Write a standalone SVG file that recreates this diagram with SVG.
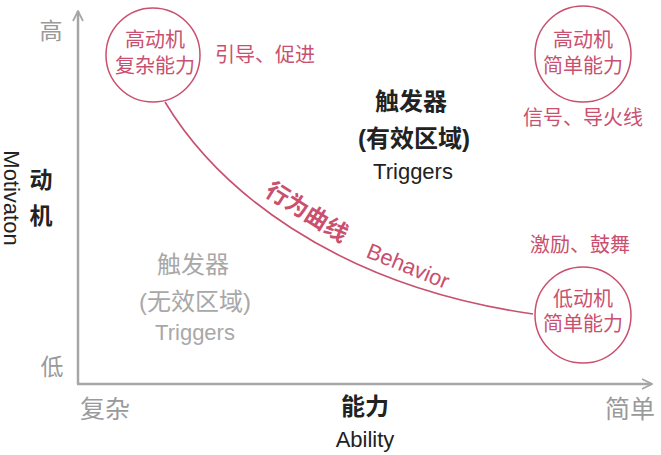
<svg xmlns="http://www.w3.org/2000/svg" width="661" height="455" viewBox="0 0 661 455">
<style>
.t{font-family:"Liberation Sans","Noto Sans CJK SC",sans-serif;text-anchor:middle;dominant-baseline:central}
.pk{fill:#c9506e;font-size:20px}
.gr{fill:#9a9a9a;font-size:23px}
.lg{fill:#a8a8a8}
.bk{fill:#222}
.b{font-weight:bold}
.node{fill:#fff;stroke:#c9506e;stroke-width:1.5}
.axis{stroke:#a6a6a6;stroke-width:2.5;fill:none}
</style>
<defs>
<marker id="arr" viewBox="0 0 10 10" refX="9" refY="5" markerWidth="5" markerHeight="5" orient="auto" markerUnits="strokeWidth">
<polyline points="1,1 9,5 1,9" fill="none" stroke="#a6a6a6" stroke-width="1.4"/>
</marker>
</defs>
<rect width="661" height="455" fill="#fff"/>
<g id="axes">
<line class="axis" x1="78" y1="384" x2="78" y2="11" marker-end="url(#arr)"/>
<line class="axis" x1="77" y1="384" x2="652" y2="384" marker-end="url(#arr)"/>
<text class="t gr" x="51" y="31">高</text>
<text class="t gr" x="52" y="367">低</text>
<text class="t gr" x="105" y="409" style="font-size:25px">复杂</text>
<text class="t gr" x="630" y="409" style="font-size:25px">简单</text>
<text class="t bk b" x="365" y="406" style="font-size:24px">能力</text>
<text class="t bk" x="365" y="439" style="font-size:22px">Ability</text>
<text class="t bk b" x="41" y="180" style="font-size:23px">动</text>
<text class="t bk b" x="41" y="216" style="font-size:23px">机</text>
<text class="t bk" x="0" y="0" style="font-size:22px" transform="translate(11,198) rotate(90)">Motivaton</text>
</g>
<g id="connectors">
<path d="M165,102 C215,185 330,285 533,314" fill="none" stroke="#c9506e" stroke-width="1.6"/>
<text class="t pk b" x="0" y="0" style="font-size:23px" transform="translate(307,212) rotate(32)">行为曲线</text>
<text class="t pk" x="0" y="0" style="font-size:22px" transform="translate(408,266) rotate(22)">Behavior</text>
</g>
<g id="node-high-complex">
<circle class="node" cx="153" cy="55" r="47"/>
<text class="t pk" x="155" y="40">高动机</text>
<text class="t pk" x="155" y="66">复杂能力</text>
<text class="t pk" x="265" y="55">引导、促进</text>
</g>
<g id="node-high-simple">
<circle class="node" cx="583" cy="54" r="48"/>
<text class="t pk" x="583" y="40">高动机</text>
<text class="t pk" x="583" y="66">简单能力</text>
<text class="t pk" x="583" y="118">信号、导火线</text>
</g>
<g id="node-low-simple">
<circle class="node" cx="583" cy="315" r="48"/>
<text class="t pk" x="583" y="299">低动机</text>
<text class="t pk" x="583" y="324">简单能力</text>
<text class="t pk" x="580" y="245">激励、鼓舞</text>
</g>
<g id="zone-valid">
<text class="t bk b" x="411" y="101" style="font-size:24px">触发器</text>
<text class="t bk b" x="414" y="138" style="font-size:24px">(有效区域)</text>
<text class="t bk" x="413" y="171" style="font-size:22px">Triggers</text>
</g>
<g id="zone-invalid">
<text class="t lg" x="193" y="264" style="font-size:24px">触发器</text>
<text class="t lg" x="195" y="301" style="font-size:24px">(无效区域)</text>
<text class="t lg" x="195" y="332" style="font-size:22px">Triggers</text>
</g>
</svg>
